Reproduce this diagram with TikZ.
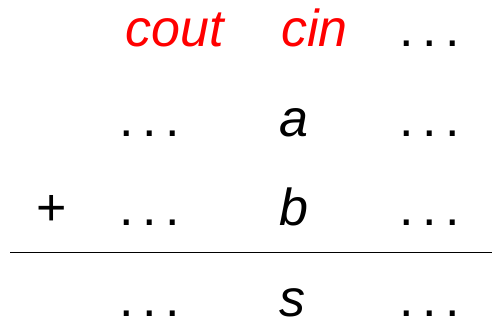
\documentclass[tikz,border=0pt]{standalone}
\usepackage{fontspec}
\setmainfont{Liberation Sans}
\definecolor{pured}{RGB}{255,0,0}
\newcommand{\mydots}{.\hspace{8.5pt}.\hspace{8.5pt}.}
\begin{document}
\begin{tikzpicture}[x=1pt,y=-1pt,
  txt/.style={anchor=base,inner sep=0pt,font=\fontsize{52}{60}\selectfont},
  var/.style={txt,font=\fontsize{52}{60}\selectfont\itshape},
  carry/.style={var,text=pured}]
\useasboundingbox (0,0) rectangle (492,322);
\node[carry] (cout) at (174.5,46) {cout};
\node[carry] (cin) at (314.5,46) {cin};
\node[txt] (d13) at (430,46) {\mydots};
\node[txt] (d21) at (150,136) {\mydots};
\node[var] (a) at (294,136) {a};
\node[txt] (d23) at (430,136) {\mydots};
\node[txt] (plus) at (52,225) {+};
\node[txt] (d31) at (150,225) {\mydots};
\node[var] (b) at (294,225) {b};
\node[txt] (d33) at (430,225) {\mydots};
\coordinate (l1) at (10,252);
\coordinate (l2) at (492,252);
\draw[line width=1pt] (l1) -- (l2);
\node[txt] (d41) at (150,316) {\mydots};
\node[var] (s) at (292,316) {s};
\node[txt] (d43) at (430,316) {\mydots};
\end{tikzpicture}
\end{document}
